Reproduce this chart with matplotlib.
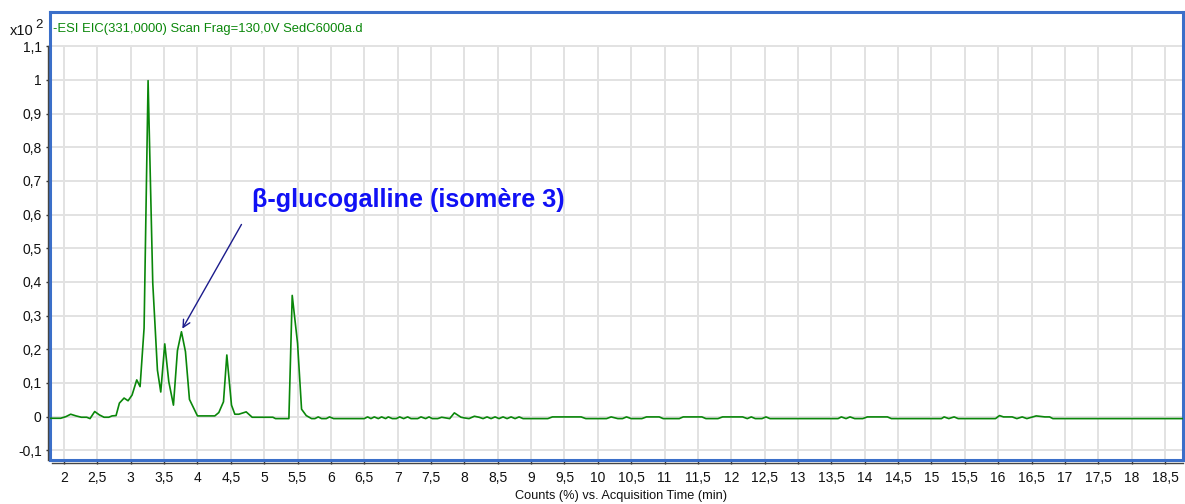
# EIC trace for m/z 331 (-ESI), sample SedC6000a
import matplotlib.pyplot as plt
from matplotlib.lines import Line2D

plt.rcParams['font.family'] = ['Liberation Sans', 'DejaVu Sans']

# acquisition time (min) and counts (x10^2)
times = [1.79, 1.95, 2.03, 2.10, 2.18, 2.26, 2.34, 2.39, 2.46, 2.53, 2.60, 2.67,
         2.72, 2.78, 2.83, 2.90, 2.96, 3.02, 3.09, 3.14, 3.20, 3.26, 3.33, 3.40,
         3.45, 3.51, 3.57, 3.64, 3.70, 3.76, 3.82, 3.88, 4.00, 4.26, 4.32, 4.39,
         4.44, 4.51, 4.56, 4.62, 4.73, 4.82, 5.13, 5.17, 5.37, 5.42, 5.50, 5.56,
         5.63, 5.71, 5.76, 5.81, 5.86, 5.93, 5.98, 6.04, 6.50,
         6.55, 6.60, 6.65, 6.71, 6.76, 6.82, 6.86, 6.92, 6.98, 7.03, 7.09, 7.15,
         7.20, 7.30, 7.35, 7.42, 7.47, 7.52, 7.60, 7.66, 7.72, 7.78, 7.85, 7.95,
         8.00, 8.07, 8.15, 8.22, 8.28, 8.34, 8.40, 8.46, 8.52, 8.58, 8.64, 8.70,
         8.76, 8.82, 8.88, 9.25, 9.32, 9.75, 9.82, 10.13, 10.20, 10.30, 10.37,
         10.43, 10.50, 10.66, 10.73, 10.92, 10.98, 11.22, 11.28, 11.56, 11.62,
         11.80, 11.87, 12.17, 12.24, 12.30, 12.36, 12.46, 12.52, 12.58, 13.60,
         13.65, 13.72, 13.78, 13.85, 13.97, 14.04, 14.34, 14.40, 15.15, 15.19,
         15.26, 15.34, 15.40, 15.96, 16.02, 16.08, 16.21, 16.28, 16.36, 16.43,
         16.50, 16.57, 16.70, 16.77, 16.82, 18.77]
counts = [-0.005, -0.005, 0.000, 0.007, 0.002, -0.002, -0.002, -0.006, 0.015, 0.005, -0.002, -0.002,
          0.002, 0.003, 0.040, 0.055, 0.047, 0.064, 0.109, 0.089, 0.263, 0.998, 0.397, 0.138,
          0.073, 0.216, 0.104, 0.034, 0.196, 0.252, 0.193, 0.051, 0.002, 0.002, 0.012, 0.044,
          0.183, 0.034, 0.007, 0.007, 0.014, -0.002, -0.002, -0.006, -0.006, 0.360, 0.218, 0.022,
          0.003, -0.006, -0.006, -0.001, -0.006, -0.006, -0.001, -0.006, -0.006,
          -0.001, -0.006, -0.001, -0.006, -0.001, -0.006, -0.001, -0.006, -0.006, -0.001, -0.006, -0.001,
          -0.006, -0.006, -0.001, -0.006, -0.001, -0.006, -0.006, -0.002, -0.004, -0.006, 0.011, -0.002,
          -0.004, -0.006, 0.001, -0.002, -0.006, -0.001, -0.006, -0.001, -0.006, -0.001, -0.006, -0.001,
          -0.006, -0.001, -0.006, -0.006, -0.001, -0.001, -0.006, -0.006, -0.001, -0.006, -0.006,
          -0.001, -0.006, -0.006, -0.001, -0.001, -0.006, -0.006, -0.001, -0.001, -0.006,
          -0.006, -0.001, -0.001, -0.006, -0.001, -0.006, -0.006, -0.001, -0.006, -0.006,
          -0.001, -0.006, -0.001, -0.006, -0.006, -0.001, -0.001, -0.006, -0.006, -0.001,
          -0.006, -0.001, -0.006, -0.006, 0.003, -0.001, -0.001, -0.006, -0.001, -0.006,
          -0.002, 0.002, -0.001, -0.001, -0.006, -0.006]

x_ticks = [2 + 0.5 * i for i in range(34)]
x_labels = [f"{v:g}".replace(".", ",") for v in x_ticks]
y_ticks = [-0.1, 0, 0.1, 0.2, 0.3, 0.4, 0.5, 0.6, 0.7, 0.8, 0.9, 1, 1.1]
y_labels = ["-0,1", "0", "0,1", "0,2", "0,3", "0,4", "0,5", "0,6", "0,7", "0,8", "0,9", "1", "1,1"]

label_text = "β-glucogalline (isomère 3)"
label_peak = (3.753, 0.254)

W, H = 1185, 504
fig = plt.figure(figsize=(W / 100, H / 100), dpi=100)
ax = fig.add_axes([50 / W, 1 - 460 / H, 1133 / W, 448 / H])
ax.set_xlim(1.79, 18.77)
ax.set_ylim(-0.129, 1.202)

# grid only below the 1,1 level
grid_c = "#e2e2e2"
for yv in y_ticks:
    ax.axhline(yv, color=grid_c, lw=1.4, zorder=0)
ax.vlines(x_ticks, -0.129, 1.1, color=grid_c, lw=1.4, zorder=0)

ax.plot(times, counts, color="#0a870a", lw=1.2, zorder=3)

ax.set_xticks(x_ticks)
ax.set_xticklabels(x_labels)
ax.set_yticks(y_ticks)
ax.set_yticklabels(y_labels)
ax.tick_params(axis="both", direction="out", length=3, width=1, color="#333333",
               labelsize=10, labelcolor="#111111")
ax.tick_params(axis="x", pad=5)
ax.tick_params(axis="y", pad=3)

for s in ax.spines.values():
    s.set_color("#3b6fc9")
    s.set_linewidth(2.2)

# dark axis lines just outside the frame
fig.add_artist(Line2D([48 / W, 48 / W], [1 - 460 / H, 1 - 46 / H], color="#444444", lw=1))
fig.add_artist(Line2D([52 / W, 1183 / W], [1 - 463 / H, 1 - 463 / H], color="#444444", lw=1))

fig.text(10 / W, 1 - 31 / H, "x10", fontsize=10.5, va="center", ha="left", color="#111111")
fig.text(35 / W, 1 - 25 / H, "2", fontsize=9.5, va="center", ha="left", color="#111111")
fig.text(53 / W, 1 - 29 / H, "-ESI EIC(331,0000) Scan Frag=130,0V SedC6000a.d",
         fontsize=9.4, color="#0a870a", va="center", ha="left")
fig.text(621 / W, 1 - 496 / H, "Counts (%) vs. Acquisition Time (min)",
         fontsize=9.2, color="#111111", ha="center", va="center")

ax.annotate("", xy=label_peak, xytext=(4.68, 0.578),
            arrowprops=dict(arrowstyle="->", color="#1c1c8c", lw=1, mutation_scale=13),
            zorder=4)
ax.text(4.82, 0.643, label_text, fontsize=18.2, fontweight="bold", color="#1010f5",
        ha="left", va="center", zorder=4)

fig.savefig("out.png", dpi=100)
